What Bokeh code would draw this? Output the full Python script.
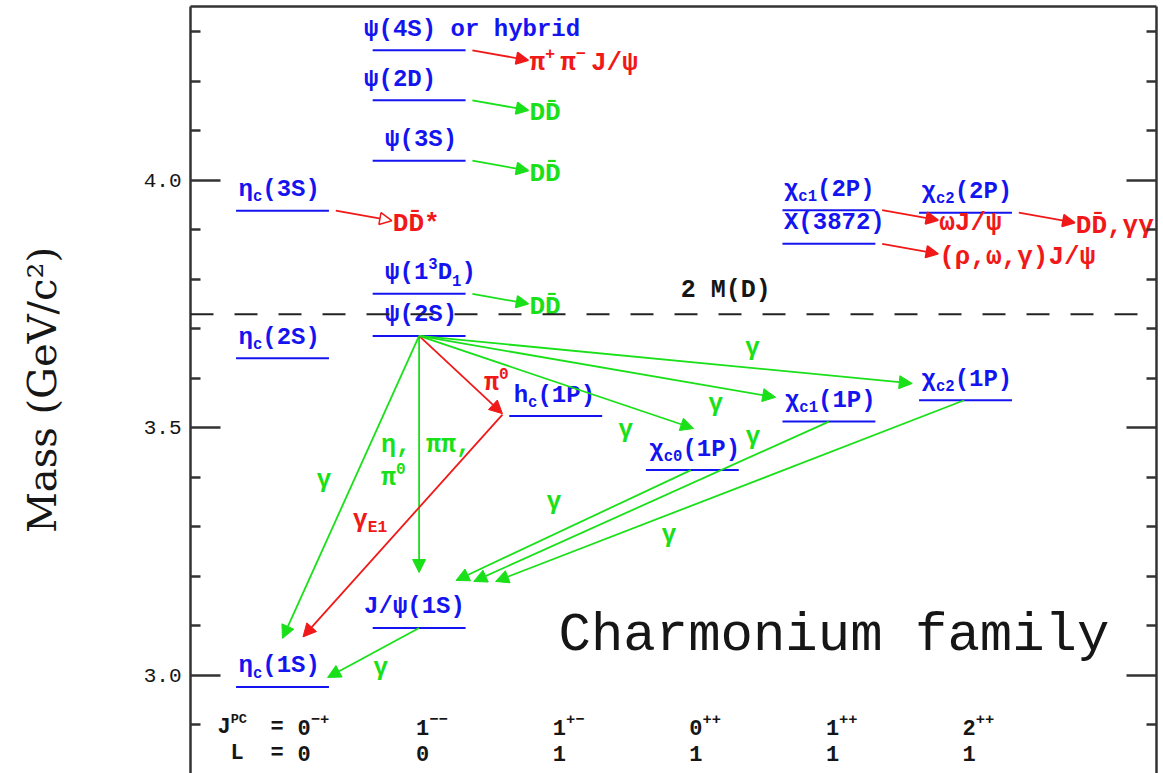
import re
import unicodedata
from bokeh.plotting import figure
from bokeh.models import (Range1d, LinearAxis, FixedTicker, Arrow, NormalHead,
                          Span, ColumnDataSource, PrintfTickFormatter)
from bokeh.core.properties import value
from bokeh.embed import file_html
from bokeh.resources import INLINE

# ---------------------------------------------------------------- data
# quantum-number columns along the x axis
jpc_spin = ["0", "1", "1", "0", "1", "2"]
jpc_pc = ["−+", "−−", "+−", "++", "++", "++"]
orbital_L = ["0", "0", "1", "1", "1", "1"]

# charmonium states: key, column (J^PC index), mass in GeV/c^2, label
state_key = ["etac1S", "jpsi", "etac2S", "psi2S", "hc", "chic0", "chic1", "chic2",
             "psi3770", "etac3S", "psi3S", "psi2D", "psi4S", "chic1_2P", "x3872", "chic2_2P"]
state_col = [0, 1, 0, 1, 2, 3, 4, 5, 1, 0, 1, 1, 1, 4, 4, 5]
state_mass = [2.977, 3.096, 3.641, 3.686, 3.524, 3.415, 3.513, 3.556,
              3.771, 3.939, 4.040, 4.162, 4.263, 3.940, 3.872, 3.935]
state_label = ["η_{c}(1S)", "J/ψ(1S)", "η_{c}(2S)", "ψ(2S)", "h_{c}(1P)",
               "χ_{c0}(1P)", "χ_{c1}(1P)", "χ_{c2}(1P)", "ψ(1^{3}D_{1})", "η_{c}(3S)",
               "ψ(3S)", "ψ(2D)", "ψ(4S) or hybrid", "χ_{c1}(2P)", "X(3872)", "χ_{c2}(2P)"]

# transitions between states (start / end points)
tr_x0 = [1.0, 1.0, 1.0, 1.61, 1.0, 1.0, 1.0, 2.99, 4.0, 4.99, 1.0]
tr_m0 = [3.686, 3.686, 3.686, 3.527, 3.686, 3.686, 3.686, 3.415, 3.513, 3.556, 3.096]
tr_x1 = [0.0, 1.0, 1.61, 0.15, 3.01, 3.61, 4.61, 1.27, 1.40, 1.56, 0.33]
tr_m1 = [3.075, 3.208, 3.529, 3.078, 3.499, 3.562, 3.590, 3.192, 3.190, 3.190, 2.996]
tr_kind = ["est", "est", "new", "new", "est", "est", "est", "est", "est", "est", "est"]

# decays of states above / near open-charm threshold
dec_from = ["psi4S", "psi2D", "psi3S", "etac3S", "psi3770", "chic1_2P", "chic2_2P", "x3872"]
dec_product = ["π^{+}π^{−}J/ψ", "DD̄", "DD̄", "DD̄*", "DD̄", "ωJ/ψ", "DD̄,γγ", "(ρ,ω,γ)J/ψ"]
dec_kind = ["new", "est", "est", "pred", "est", "new", "new", "new"]

# open-charm threshold 2 M(D)
two_MD = 3.7296

# axis ticks
major_ticks = [3.0, 3.5, 4.0]
minor_ticks = [2.9, 3.1, 3.2, 3.3, 3.4, 3.6, 3.7, 3.8, 3.9, 4.1, 4.2, 4.3]

# ---------------------------------------------------------------- style
BLUE = "#1414f0"
GREEN = "#19e019"
RED = "#f01818"
BLACK = "#161616"
FONT = "Liberation Mono"
KIND_COLOR = {"est": GREEN, "new": RED, "pred": RED}

XL, XR = -0.6735, 6.398
YB, YT = 2.802, 4.3515

p = figure(width=1163, height=773, x_range=Range1d(XL, XR), y_range=Range1d(YB, YT),
           output_backend="svg", toolbar_location=None,
           x_axis_location=None, y_axis_location=None,
           min_border_left=190, min_border_right=7, min_border_top=6, min_border_bottom=0)
for g in p.grid:
    g.visible = False
p.outline_line_color = None
p.background_fill_color = "white"

ticker = FixedTicker(ticks=major_ticks, minor_ticks=minor_ticks)
common = dict(axis_line_width=2.5, axis_line_color="#333333",
              major_tick_line_width=2.5, major_tick_line_color="#333333",
              minor_tick_line_width=2.5, minor_tick_line_color="#333333",
              major_tick_in=30, major_tick_out=0, minor_tick_in=10, minor_tick_out=0)
ax_l = LinearAxis(ticker=ticker, formatter=PrintfTickFormatter(format="%.1f"),
                  axis_label="Mass (GeV/c²)",
                  axis_label_text_font="DejaVu Serif", axis_label_text_font_size="40px",
                  axis_label_text_font_style="normal", axis_label_text_color=BLACK,
                  axis_label_standoff=76,
                  major_label_text_font=FONT, major_label_text_font_size="21px",
                  major_label_text_font_style="normal", major_label_text_color=BLACK,
                  major_label_standoff=9, **common)
p.add_layout(ax_l, "left")
ax_r = LinearAxis(ticker=ticker, major_label_text_font_size="0px", major_label_standoff=0,
                  major_label_text_color=None, **common)
p.add_layout(ax_r, "right")
ax_t = LinearAxis(ticker=FixedTicker(ticks=[]), major_label_text_font_size="0px",
                  major_label_standoff=0, major_label_text_color=None, **common)
p.add_layout(ax_t, "above")

# ---------------------------------------------------------------- rich text helper
rows = dict(x=[], y=[], text=[], xo=[], yo=[], fs=[], color=[], style=[])


def parse(markup):
    segs, pos = [], 0
    for m in re.finditer(r"([_^])\{([^}]*)\}", markup):
        if m.start() > pos:
            segs.append((markup[pos:m.start()], "n"))
        segs.append((m.group(2), "sub" if m.group(1) == "_" else "sup"))
        pos = m.end()
    if pos < len(markup):
        segs.append((markup[pos:], "n"))
    return segs


def nch(s):
    return sum(1 for c in s if not unicodedata.combining(c))


def rich(x, y, markup, color, size, dx=0.0, dy=0.0, style="bold", align="left", ss=0.65,
         adv=1.0):
    segs = parse(markup)
    sizes = [size if m == "n" else size * ss for _, m in segs]
    widths = [nch(s) * 0.6 * (fs if m == "n" else fs * adv)
              for (s, m), fs in zip(segs, sizes)]
    off = dx - (sum(widths) / 2 if align == "center" else 0)
    for (s, mode), fs, w in zip(segs, sizes, widths):
        yo = dy + (0.32 * size if mode == "sub" else (-0.38 * size if mode == "sup" else 0))
        rows["x"].append(x)
        rows["y"].append(y)
        rows["text"].append(s)
        rows["xo"].append(off)
        rows["yo"].append(yo)
        rows["fs"].append(f"{fs:.1f}px")
        rows["color"].append(color)
        rows["style"].append(style)
        off += w


# ---------------------------------------------------------------- levels
HALF = 0.34
p.segment(x0=[c - HALF for c in state_col], x1=[c + HALF for c in state_col],
          y0=state_mass, y1=state_mass, line_color=BLUE, line_width=2)

label_dx = [-44, -55, -44, -34, -42, -43, -44, -44, -34, -44, -34, -55, -55, -45, -45, -44]
for c, m, lab, dx in zip(state_col, state_mass, state_label, label_dx):
    rich(c, m, lab, BLUE, 24, dx=dx, dy=-21)

# ---------------------------------------------------------------- threshold
p.add_layout(Span(location=two_MD, dimension="width", line_color="#222222",
                  line_width=2, line_dash="23 21"))
rich(2.0, two_MD, "2 M(D)", BLACK, 25, dx=125, dy=-24)

# ---------------------------------------------------------------- transitions
for x0, m0, x1, m1, k in zip(tr_x0, tr_m0, tr_x1, tr_m1, tr_kind):
    col = KIND_COLOR[k]
    p.add_layout(Arrow(end=NormalHead(size=13, fill_color=col, line_color=col),
                       x_start=x0, y_start=m0, x_end=x1, y_end=m1,
                       line_color=col, line_width=1.8))

# labels placed along transitions: (transition, fraction, dx, dy, text, align)
tr_labels = [
    (0, 0.477, -30, 0, "γ", "center"),
    (6, 0.676, 0, -20, "γ", "center"),
    (5, 0.832, 0, 18, "γ", "center"),
    (4, 0.753, 0, 25, "γ", "center"),
    (8, 0.214, 0, -18, "γ", "center"),
    (7, 0.583, 0, -32, "γ", "center"),
    (9, 0.630, 0, 21, "γ", "center"),
    (10, 0.418, 0, 20, "γ", "center"),
    (1, 0.462, -38, 0, "η, ππ,", "left"),
    (1, 0.602, -38, 0, "π^{0}", "left"),
    (2, 0.610, 14, 0, "π^{0}", "left"),
    (3, 0.475, -55, 0, "γ_{E1}", "left"),
]
for i, t, dx, dy, txt, al in tr_labels:
    x = tr_x0[i] + t * (tr_x1[i] - tr_x0[i])
    y = tr_m0[i] + t * (tr_m1[i] - tr_m0[i])
    rich(x, y, txt, KIND_COLOR[tr_kind[i]], 25, dx=dx, dy=dy, align=al)

# ---------------------------------------------------------------- decays
key_idx = {k: i for i, k in enumerate(state_key)}
DEC_DX, DEC_DM = 0.41, -0.0202
for src, prod, k in zip(dec_from, dec_product, dec_kind):
    i = key_idx[src]
    xs, ms = state_col[i] + 0.39, state_mass[i]
    xe, me = xs + DEC_DX, ms + DEC_DM
    col = KIND_COLOR[k]
    head = NormalHead(size=12, fill_color=(None if k == "pred" else col), line_color=col,
                      line_width=1.5)
    p.add_layout(Arrow(end=head, x_start=xs, y_start=ms, x_end=xe, y_end=me,
                       line_color=col, line_width=1.8))
    rich(xe, me, prod, col, 26, dx=1, dy=3, adv=1.5)

# ---------------------------------------------------------------- quantum numbers
ROW_J, ROW_L = 2.895, 2.8424
rich(0, ROW_J, "J^{PC}", BLACK, 22, dx=-65, ss=0.62)
rich(0, ROW_J, "=", BLACK, 22, dx=-12)
rich(0, ROW_L, "L", BLACK, 22, dx=-52)
rich(0, ROW_L, "=", BLACK, 22, dx=-12)
spin_dx = [15, -3, -3, -3, -3, -3]
for c, (j, pc, L) in enumerate(zip(jpc_spin, jpc_pc, orbital_L)):
    rich(c, ROW_J, j + "^{" + pc + "}", BLACK, 22, dx=spin_dx[c], ss=0.7)
    rich(c, ROW_L, L, BLACK, 22, dx=spin_dx[c])

p.text(x="x", y="y", text="text", x_offset="xo", y_offset="yo", text_font_size="fs",
       text_color="color", text_font_style="style", text_font=value(FONT),
       text_align="left", text_baseline="middle", source=ColumnDataSource(rows))

# ---------------------------------------------------------------- title
p.text(x=[2.0205], y=[3.0808], text=["Charmonium family"], text_font=value(FONT),
       text_font_size="54px", text_color=BLACK, text_align="left",
       text_baseline="alphabetic")

open("out.html", "w").write(file_html(p, INLINE))
